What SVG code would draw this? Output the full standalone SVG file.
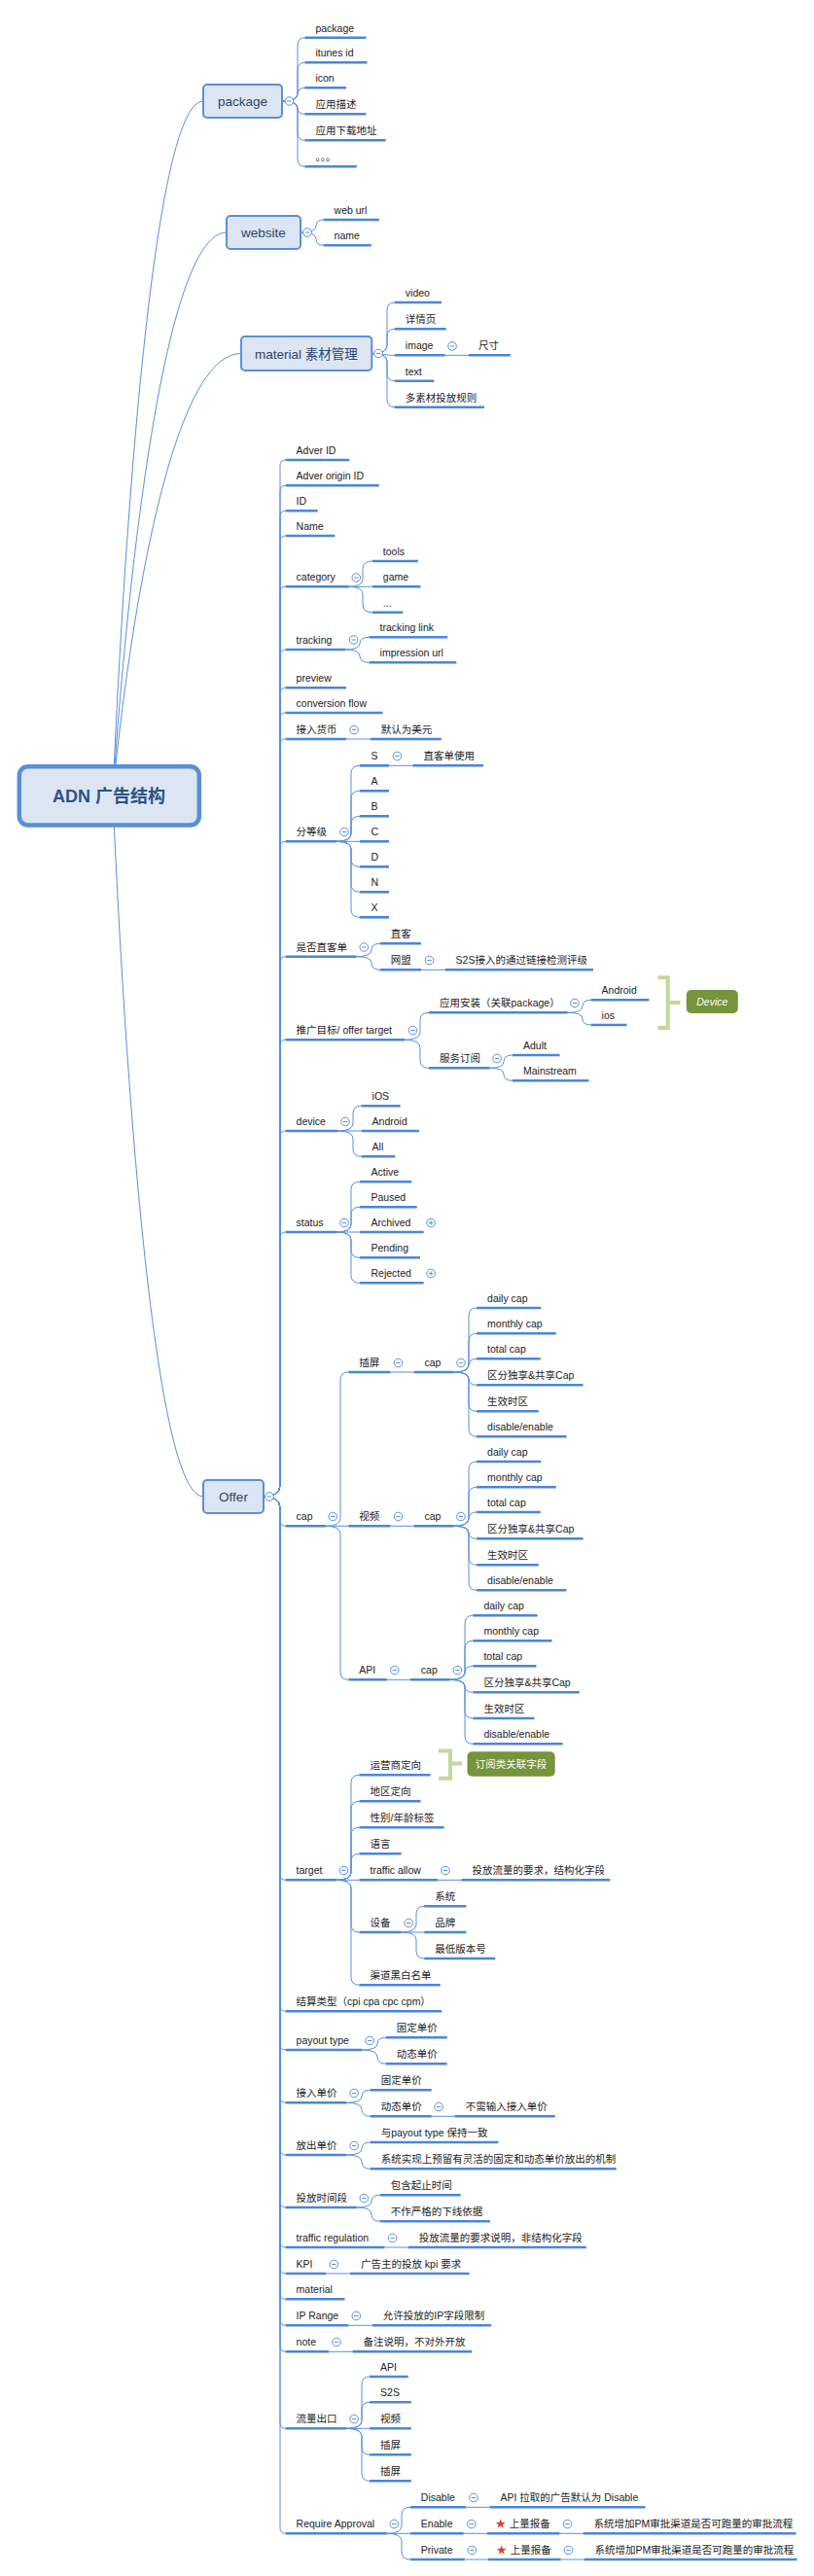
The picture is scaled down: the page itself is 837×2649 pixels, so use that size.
<svg xmlns="http://www.w3.org/2000/svg" xmlns:xlink="http://www.w3.org/1999/xlink" width="837" height="2649" viewBox="0 0 837 2649">
<style>
.c{fill:none;stroke:#5a8fd8;stroke-width:1}
.u{fill:none;stroke:#4c86d6;stroke-width:2.6}
.t{font-family:"Liberation Sans","Noto Sans CJK SC",sans-serif;font-size:10.5px;fill:#222}
.mt{font-family:"Liberation Sans","Noto Sans CJK SC",sans-serif;font-size:13.5px;fill:#2f4468;text-anchor:middle}
.box{fill:#dce6f3;stroke:#5a8fd8;stroke-width:2}
.br{fill:none;stroke:#c4d79b;stroke-width:4}
.gb{fill:#77933c}
.gt{font-family:"Liberation Sans","Noto Sans CJK SC",sans-serif;font-size:10.5px;fill:#fff;text-anchor:middle}
</style>
<defs>
<g id="mi"><circle r="4.3" fill="#fff" stroke="#5a8fd8" stroke-width="1"/><path d="M-2.2 0H2.2" stroke="#5a8fd8" stroke-width="1"/></g>
<g id="pl"><circle r="4.3" fill="#fff" stroke="#5a8fd8" stroke-width="1"/><path d="M-2.2 0H2.2M0 -2.2V2.2" stroke="#5a8fd8" stroke-width="1"/></g>
<polygon id="star" points="0,-5.2 1.23,-1.7 4.95,-1.61 2,0.65 3.06,4.21 0,2.1 -3.06,4.21 -2,0.65 -4.95,-1.61 -1.23,-1.7" fill="#e0403a"/>
</defs>
<rect width="837" height="2649" fill="#fff"/>
<g id="connectors" class="c">
<path d="M116 817 C116 817 143.9 104 209 104"/>
<path d="M116 817 C116 817 151.1 239 233 239"/>
<path d="M116 817 C116 817 155.6 363.5 248 363.5"/>
<path d="M116 817 C116 817 143.9 1539 209 1539"/>
<path d="M290 104 Q306 104 306 96 V46.7 Q306 38.7 313.4 38.7"/>
<path d="M290 104 Q306 104 306 96 V72.3 Q306 64.3 313.4 64.3"/>
<path d="M290 104 Q306 104 306 97.2 Q306 90.3 313.4 90.3"/>
<path d="M290 104 Q306 104 306 110.7 Q306 117.3 313.4 117.3"/>
<path d="M290 104 Q306 104 306 112 V136.3 Q306 144.3 313.4 144.3"/>
<path d="M290 104 Q306 104 306 112 V163.3 Q306 171.3 313.4 171.3"/>
<path d="M309 239 Q325 239 325 232.5 Q325 226 332.6 226"/>
<path d="M309 239 Q325 239 325 245.7 Q325 252.3 332.6 252.3"/>
<path d="M382.3 363.5 Q398 363.5 398 355.5 V319 Q398 311 405.8 311"/>
<path d="M382.3 363.5 Q398 363.5 398 355.5 V346.3 Q398 338.3 405.8 338.3"/>
<path d="M382.3 363.5 C395 363.5 395 365.3 405.8 365.3"/>
<path d="M382.3 363.5 Q398 363.5 398 371.5 V383.7 Q398 391.7 405.8 391.7"/>
<path d="M382.3 363.5 Q398 363.5 398 371.5 V410.7 Q398 418.7 405.8 418.7"/>
<path d="M457.6 365.3 H482"/>
<path d="M271 1539 Q288 1539 288 1527 V479 Q288 473 293.6 473"/>
<path d="M271 1539 Q288 1539 288 1527 V505.3 Q288 499.3 293.6 499.3"/>
<path d="M271 1539 Q288 1539 288 1527 V531.3 Q288 525.3 293.6 525.3"/>
<path d="M271 1539 Q288 1539 288 1527 V557 Q288 551 293.6 551"/>
<path d="M271 1539 Q288 1539 288 1527 V609.3 Q288 603.3 293.6 603.3"/>
<path d="M271 1539 Q288 1539 288 1527 V674 Q288 668 293.6 668"/>
<path d="M271 1539 Q288 1539 288 1527 V713.3 Q288 707.3 293.6 707.3"/>
<path d="M271 1539 Q288 1539 288 1527 V739 Q288 733 293.6 733"/>
<path d="M271 1539 Q288 1539 288 1527 V766 Q288 760 293.6 760"/>
<path d="M271 1539 Q288 1539 288 1527 V871.3 Q288 865.3 293.6 865.3"/>
<path d="M271 1539 Q288 1539 288 1527 V989.7 Q288 983.7 293.6 983.7"/>
<path d="M271 1539 Q288 1539 288 1527 V1075.3 Q288 1069.3 293.6 1069.3"/>
<path d="M271 1539 Q288 1539 288 1527 V1169 Q288 1163 293.6 1163"/>
<path d="M271 1539 Q288 1539 288 1527 V1273 Q288 1267 293.6 1267"/>
<path d="M271 1539 Q288 1539 288 1551 V1563.3 Q288 1569.3 293.6 1569.3"/>
<path d="M271 1539 Q288 1539 288 1551 V1927.3 Q288 1933.3 293.6 1933.3"/>
<path d="M271 1539 Q288 1539 288 1551 V2062.3 Q288 2068.3 293.6 2068.3"/>
<path d="M271 1539 Q288 1539 288 1551 V2102 Q288 2108 293.6 2108"/>
<path d="M271 1539 Q288 1539 288 1551 V2156.3 Q288 2162.3 293.6 2162.3"/>
<path d="M271 1539 Q288 1539 288 1551 V2210 Q288 2216 293.6 2216"/>
<path d="M271 1539 Q288 1539 288 1551 V2264 Q288 2270 293.6 2270"/>
<path d="M271 1539 Q288 1539 288 1551 V2305 Q288 2311 293.6 2311"/>
<path d="M271 1539 Q288 1539 288 1551 V2332 Q288 2338 293.6 2338"/>
<path d="M271 1539 Q288 1539 288 1551 V2358.3 Q288 2364.3 293.6 2364.3"/>
<path d="M271 1539 Q288 1539 288 1551 V2385.3 Q288 2391.3 293.6 2391.3"/>
<path d="M271 1539 Q288 1539 288 1551 V2412.3 Q288 2418.3 293.6 2418.3"/>
<path d="M271 1539 Q288 1539 288 1551 V2491.3 Q288 2497.3 293.6 2497.3"/>
<path d="M271 1539 Q288 1539 288 1551 V2599.3 Q288 2605.3 293.6 2605.3"/>
<path d="M358.8 603.3 Q373 603.3 373 595.3 V585 Q373 577 382.8 577"/>
<path d="M358.8 603.3 H382.8"/>
<path d="M358.8 603.3 Q373 603.3 373 611.3 V621.7 Q373 629.7 382.8 629.7"/>
<path d="M355 668 Q370 668 370 661.7 Q370 655.3 379.6 655.3"/>
<path d="M355 668 Q370 668 370 674.7 Q370 681.3 379.6 681.3"/>
<path d="M356 760 H380.7"/>
<path d="M346 865.3 Q361 865.3 361 857.3 V795.3 Q361 787.3 370 787.3"/>
<path d="M346 865.3 Q361 865.3 361 857.3 V821.3 Q361 813.3 370 813.3"/>
<path d="M346 865.3 Q361 865.3 361 857.3 V847.3 Q361 839.3 370 839.3"/>
<path d="M346 865.3 H370"/>
<path d="M346 865.3 Q361 865.3 361 873.3 V883.3 Q361 891.3 370 891.3"/>
<path d="M346 865.3 Q361 865.3 361 873.3 V909.3 Q361 917.3 370 917.3"/>
<path d="M346 865.3 Q361 865.3 361 873.3 V935.3 Q361 943.3 370 943.3"/>
<path d="M400 787.3 H424.5"/>
<path d="M366.3 983.7 Q382 983.7 382 977 Q382 970.3 390.8 970.3"/>
<path d="M366.3 983.7 Q382 983.7 382 990.5 Q382 997.3 390.8 997.3"/>
<path d="M433 997.3 H457.6"/>
<path d="M416 1069.3 Q432 1069.3 432 1061.3 V1049.3 Q432 1041.3 441 1041.3"/>
<path d="M416 1069.3 Q432 1069.3 432 1077.3 V1090.3 Q432 1098.3 441 1098.3"/>
<path d="M583.6 1041.3 Q599 1041.3 599 1034.8 Q599 1028.3 607.6 1028.3"/>
<path d="M583.6 1041.3 Q599 1041.3 599 1047.7 Q599 1054 607.6 1054"/>
<path d="M503.5 1098.3 Q518 1098.3 518 1091.7 Q518 1085 527 1085"/>
<path d="M503.5 1098.3 Q518 1098.3 518 1104.8 Q518 1111.3 527 1111.3"/>
<path d="M347 1163 Q363 1163 363 1155 V1145.3 Q363 1137.3 371.6 1137.3"/>
<path d="M347 1163 H371.6"/>
<path d="M347 1163 Q363 1163 363 1171 V1181.3 Q363 1189.3 371.6 1189.3"/>
<path d="M346 1267 Q361 1267 361 1259 V1223.3 Q361 1215.3 370 1215.3"/>
<path d="M346 1267 Q361 1267 361 1259 V1249.3 Q361 1241.3 370 1241.3"/>
<path d="M346 1267 H370"/>
<path d="M346 1267 Q361 1267 361 1275 V1285.3 Q361 1293.3 370 1293.3"/>
<path d="M346 1267 Q361 1267 361 1275 V1311.3 Q361 1319.3 370 1319.3"/>
<path d="M334.8 1569.3 Q350 1569.3 350 1561.3 V1419 Q350 1411 358.3 1411"/>
<path d="M334.8 1569.3 H358.3"/>
<path d="M334.8 1569.3 Q350 1569.3 350 1577.3 V1719.3 Q350 1727.3 358.3 1727.3"/>
<path d="M401.5 1411 H425.5"/>
<path d="M401.5 1569.3 H425.5"/>
<path d="M397.8 1727.3 H421.8"/>
<path d="M466.6 1411 Q482 1411 482 1403 V1353 Q482 1345 490.1 1345"/>
<path d="M466.6 1411 Q482 1411 482 1403 V1379.3 Q482 1371.3 490.1 1371.3"/>
<path d="M466.6 1411 Q482 1411 482 1404.2 Q482 1397.3 490.1 1397.3"/>
<path d="M466.6 1411 Q482 1411 482 1417.7 Q482 1424.3 490.1 1424.3"/>
<path d="M466.6 1411 Q482 1411 482 1419 V1443.3 Q482 1451.3 490.1 1451.3"/>
<path d="M466.6 1411 Q482 1411 482 1419 V1469.3 Q482 1477.3 490.1 1477.3"/>
<path d="M466.6 1569.3 Q482 1569.3 482 1561.3 V1511 Q482 1503 490.1 1503"/>
<path d="M466.6 1569.3 Q482 1569.3 482 1561.3 V1537.3 Q482 1529.3 490.1 1529.3"/>
<path d="M466.6 1569.3 Q482 1569.3 482 1562.2 Q482 1555 490.1 1555"/>
<path d="M466.6 1569.3 Q482 1569.3 482 1575.8 Q482 1582.3 490.1 1582.3"/>
<path d="M466.6 1569.3 Q482 1569.3 482 1577.3 V1601.3 Q482 1609.3 490.1 1609.3"/>
<path d="M466.6 1569.3 Q482 1569.3 482 1577.3 V1627.3 Q482 1635.3 490.1 1635.3"/>
<path d="M462.4 1727.3 Q478 1727.3 478 1719.3 V1669.3 Q478 1661.3 486.4 1661.3"/>
<path d="M462.4 1727.3 Q478 1727.3 478 1719.3 V1695.3 Q478 1687.3 486.4 1687.3"/>
<path d="M462.4 1727.3 Q478 1727.3 478 1720.3 Q478 1713.3 486.4 1713.3"/>
<path d="M462.4 1727.3 Q478 1727.3 478 1733.8 Q478 1740.3 486.4 1740.3"/>
<path d="M462.4 1727.3 Q478 1727.3 478 1735.3 V1759 Q478 1767 486.4 1767"/>
<path d="M462.4 1727.3 Q478 1727.3 478 1735.3 V1785.3 Q478 1793.3 486.4 1793.3"/>
<path d="M345.4 1933.3 Q361 1933.3 361 1925.3 V1833.3 Q361 1825.3 369.5 1825.3"/>
<path d="M345.4 1933.3 Q361 1933.3 361 1925.3 V1860.3 Q361 1852.3 369.5 1852.3"/>
<path d="M345.4 1933.3 Q361 1933.3 361 1925.3 V1887.3 Q361 1879.3 369.5 1879.3"/>
<path d="M345.4 1933.3 Q361 1933.3 361 1925.3 V1914.3 Q361 1906.3 369.5 1906.3"/>
<path d="M345.4 1933.3 H369.5"/>
<path d="M345.4 1933.3 Q361 1933.3 361 1941.3 V1979 Q361 1987 369.5 1987"/>
<path d="M345.4 1933.3 Q361 1933.3 361 1941.3 V2033.3 Q361 2041.3 369.5 2041.3"/>
<path d="M450 1933.3 H474.6"/>
<path d="M412.7 1987 Q428 1987 428 1979 V1968.3 Q428 1960.3 436.2 1960.3"/>
<path d="M412.7 1987 H436.2"/>
<path d="M412.7 1987 Q428 1987 428 1995 V2006 Q428 2014 436.2 2014"/>
<path d="M372.1 2108 Q388 2108 388 2101.7 Q388 2095.3 396.7 2095.3"/>
<path d="M372.1 2108 Q388 2108 388 2115.2 Q388 2122.3 396.7 2122.3"/>
<path d="M356.1 2162.3 Q372 2162.3 372 2155.8 Q372 2149.3 380.7 2149.3"/>
<path d="M356.1 2162.3 Q372 2162.3 372 2169.3 Q372 2176.3 380.7 2176.3"/>
<path d="M443.7 2176.3 H467.7"/>
<path d="M356.1 2216 Q372 2216 372 2209.5 Q372 2203 380.7 2203"/>
<path d="M356.1 2216 Q372 2216 372 2223.2 Q372 2230.3 380.7 2230.3"/>
<path d="M366.8 2270 Q382 2270 382 2263.7 Q382 2257.3 390.8 2257.3"/>
<path d="M366.8 2270 Q382 2270 382 2277.2 Q382 2284.3 390.8 2284.3"/>
<path d="M395.6 2311 H419.7"/>
<path d="M335.3 2338 H359.9"/>
<path d="M358.3 2391.3 H382.8"/>
<path d="M338 2418.3 H362.5"/>
<path d="M356.1 2497.3 Q372 2497.3 372 2489.3 V2452 Q372 2444 380.1 2444"/>
<path d="M356.1 2497.3 Q372 2497.3 372 2489.3 V2478.3 Q372 2470.3 380.1 2470.3"/>
<path d="M356.1 2497.3 H380.1"/>
<path d="M356.1 2497.3 Q372 2497.3 372 2505.3 V2516.3 Q372 2524.3 380.1 2524.3"/>
<path d="M356.1 2497.3 Q372 2497.3 372 2505.3 V2543.3 Q372 2551.3 380.1 2551.3"/>
<path d="M397.8 2605.3 Q413 2605.3 413 2597.3 V2586.3 Q413 2578.3 421.8 2578.3"/>
<path d="M397.8 2605.3 H421.8"/>
<path d="M397.8 2605.3 Q413 2605.3 413 2613.3 V2624 Q413 2632 421.8 2632"/>
<path d="M478.9 2578.3 H503.5"/>
<path d="M476.8 2605.3 H500.8"/>
<path d="M575.5 2605.3 H599.6"/>
<path d="M477.8 2632 H501.9"/>
<path d="M576.6 2632 H600.6"/>
</g>
<g id="root"><rect x="19.8" y="788.2" width="185" height="60.3" rx="9" fill="#dce6f3" stroke="#5a8fd8" stroke-width="4.5"/><text x="112" y="825" font-family="Liberation Sans,Noto Sans CJK SC,sans-serif" font-size="18" font-weight="bold" fill="#2c5283" text-anchor="middle">ADN 广告结构</text></g>
<g id="t-package"><rect class="box" x="209" y="87" width="81" height="34" rx="4"/><text class="mt" x="249.5" y="109">package</text><use href="#mi" x="297.4" y="104"/></g>
<g id="t-website"><rect class="box" x="233" y="222" width="76" height="34" rx="4"/><text class="mt" x="271" y="244">website</text><use href="#mi" x="316" y="239"/></g>
<g id="t-material"><rect class="box" x="248" y="346" width="134.3" height="35" rx="4"/><text class="mt" x="315" y="368.5">material 素材管理</text><use href="#mi" x="389" y="363.5"/></g>
<g id="t-offer"><rect class="box" x="209" y="1522" width="62" height="34" rx="4"/><text class="mt" x="240" y="1544">Offer</text><use href="#mi" x="277" y="1539"/></g>
<g id="p1"><path class="u" d="M313.4 38.7H376.4"/><text class="t" x="324.4" y="32.7">package</text></g>
<g id="p2"><path class="u" d="M313.4 64.3H377.5"/><text class="t" x="324.4" y="58.3">itunes id</text></g>
<g id="p3"><path class="u" d="M313.4 90.3H356"/><text class="t" x="324.4" y="84.3">icon</text></g>
<g id="p4"><path class="u" d="M313.4 117.3H376.4"/><text class="t" x="324.4" y="111.3">应用描述</text></g>
<g id="p5"><path class="u" d="M313.4 144.3H396.7"/><text class="t" x="324.4" y="138.3">应用下载地址</text></g>
<g id="p6"><path class="u" d="M313.4 171.3H366.8"/><text class="t" x="324.4" y="165.3">。。。</text></g>
<g id="w1"><path class="u" d="M332.6 226H390"/><text class="t" x="343.6" y="220">web url</text></g>
<g id="w2"><path class="u" d="M332.6 252.3H381.7"/><text class="t" x="343.6" y="246.3">name</text></g>
<g id="m1"><path class="u" d="M405.8 311H454"/><text class="t" x="416.8" y="305">video</text></g>
<g id="m2"><path class="u" d="M405.8 338.3H458.6"/><text class="t" x="416.8" y="332.3">详情页</text></g>
<g id="m3"><path class="u" d="M405.8 365.3H457.6"/><text class="t" x="416.8" y="359.3">image</text><use href="#mi" x="465" y="356"/></g>
<g id="m3a"><path class="u" d="M482 365.3H524.8"/><text class="t" x="492" y="359.3">尺寸</text></g>
<g id="m4"><path class="u" d="M405.8 391.7H446.3"/><text class="t" x="416.8" y="385.7">text</text></g>
<g id="m5"><path class="u" d="M405.8 418.7H498"/><text class="t" x="416.8" y="412.7">多素材投放规则</text></g>
<g id="o1"><path class="u" d="M293.6 473H359.3"/><text class="t" x="304.6" y="467">Adver ID</text></g>
<g id="o2"><path class="u" d="M293.6 499.3H389.7"/><text class="t" x="304.6" y="493.3">Adver origin ID</text></g>
<g id="o3"><path class="u" d="M293.6 525.3H326.7"/><text class="t" x="304.6" y="519.3">ID</text></g>
<g id="o4"><path class="u" d="M293.6 551H344.4"/><text class="t" x="304.6" y="545">Name</text></g>
<g id="o5"><path class="u" d="M293.6 603.3H358.8"/><text class="t" x="304.6" y="597.3">category</text><use href="#mi" x="366.3" y="594"/></g>
<g id="o6"><path class="u" d="M293.6 668H355"/><text class="t" x="304.6" y="662">tracking</text><use href="#mi" x="363.6" y="658"/></g>
<g id="o7"><path class="u" d="M293.6 707.3H356.1"/><text class="t" x="304.6" y="701.3">preview</text></g>
<g id="o8"><path class="u" d="M293.6 733H393.5"/><text class="t" x="304.6" y="727">conversion flow</text></g>
<g id="o9"><path class="u" d="M293.6 760H356"/><text class="t" x="304.6" y="754">接入货币</text><use href="#mi" x="364" y="750.5"/></g>
<g id="o10"><path class="u" d="M293.6 865.3H346"/><text class="t" x="304.6" y="859.3">分等级</text><use href="#mi" x="354" y="855.5"/></g>
<g id="o11"><path class="u" d="M293.6 983.7H366.3"/><text class="t" x="304.6" y="977.7">是否直客单</text><use href="#mi" x="374.3" y="974"/></g>
<g id="o12"><path class="u" d="M293.6 1069.3H416"/><text class="t" x="304.6" y="1063.3">推广目标/ offer target</text><use href="#mi" x="424.5" y="1059.5"/></g>
<g id="o13"><path class="u" d="M293.6 1163H347"/><text class="t" x="304.6" y="1157">device</text><use href="#mi" x="355" y="1153.5"/></g>
<g id="o14"><path class="u" d="M293.6 1267H346"/><text class="t" x="304.6" y="1261">status</text><use href="#mi" x="354" y="1257.5"/></g>
<g id="o15"><path class="u" d="M293.6 1569.3H334.8"/><text class="t" x="304.6" y="1563.3">cap</text><use href="#mi" x="342.2" y="1559.5"/></g>
<g id="o16"><path class="u" d="M293.6 1933.3H345.4"/><text class="t" x="304.6" y="1927.3">target</text><use href="#mi" x="353.4" y="1923.5"/></g>
<g id="o17"><path class="u" d="M293.6 2068.3H454.3"/><text class="t" x="304.6" y="2062.3">结算类型（cpi cpa cpc cpm）</text></g>
<g id="o18"><path class="u" d="M293.6 2108H372.1"/><text class="t" x="304.6" y="2102">payout type</text><use href="#mi" x="380.1" y="2098.5"/></g>
<g id="o19"><path class="u" d="M293.6 2162.3H356.1"/><text class="t" x="304.6" y="2156.3">接入单价</text><use href="#mi" x="364.1" y="2152.5"/></g>
<g id="o20"><path class="u" d="M293.6 2216H356.1"/><text class="t" x="304.6" y="2210">放出单价</text><use href="#mi" x="364.1" y="2206.5"/></g>
<g id="o21"><path class="u" d="M293.6 2270H366.8"/><text class="t" x="304.6" y="2264">投放时间段</text><use href="#mi" x="374.3" y="2260.5"/></g>
<g id="o22"><path class="u" d="M293.6 2311H395.6"/><text class="t" x="304.6" y="2305">traffic regulation</text><use href="#mi" x="403.6" y="2301.5"/></g>
<g id="o23"><path class="u" d="M293.6 2338H335.3"/><text class="t" x="304.6" y="2332">KPI</text><use href="#mi" x="343.3" y="2328.5"/></g>
<g id="o24"><path class="u" d="M293.6 2364.3H354.5"/><text class="t" x="304.6" y="2358.3">material</text></g>
<g id="o25"><path class="u" d="M293.6 2391.3H358.3"/><text class="t" x="304.6" y="2385.3">IP Range</text><use href="#mi" x="366.3" y="2381.5"/></g>
<g id="o26"><path class="u" d="M293.6 2418.3H338"/><text class="t" x="304.6" y="2412.3">note</text><use href="#mi" x="346" y="2408.5"/></g>
<g id="o27"><path class="u" d="M293.6 2497.3H356.1"/><text class="t" x="304.6" y="2491.3">流量出口</text><use href="#mi" x="364.1" y="2487.5"/></g>
<g id="o28"><path class="u" d="M293.6 2605.3H397.8"/><text class="t" x="304.6" y="2599.3">Require Approval</text><use href="#mi" x="405.2" y="2595.5"/></g>
<g id="c1"><path class="u" d="M382.8 577H429.8"/><text class="t" x="393.8" y="571">tools</text></g>
<g id="c2"><path class="u" d="M382.8 603.3H432.5"/><text class="t" x="393.8" y="597.3">game</text></g>
<g id="c3"><path class="u" d="M382.8 629.7H414.3"/><text class="t" x="393.8" y="623.7">...</text></g>
<g id="tr1"><path class="u" d="M379.6 655.3H460.2"/><text class="t" x="390.6" y="649.3">tracking link</text></g>
<g id="tr2"><path class="u" d="M379.6 681.3H469.3"/><text class="t" x="390.6" y="675.3">impression url</text></g>
<g id="cur1"><path class="u" d="M380.7 760H453.8"/><text class="t" x="391.7" y="754">默认为美元</text></g>
<g id="g-s"><path class="u" d="M370 787.3H400"/><text class="t" x="381.5" y="781.3">S</text><use href="#mi" x="408.4" y="777.5"/></g>
<g id="g-a"><path class="u" d="M370 813.3H400"/><text class="t" x="381.5" y="807.3">A</text></g>
<g id="g-b"><path class="u" d="M370 839.3H400"/><text class="t" x="381.5" y="833.3">B</text></g>
<g id="g-c"><path class="u" d="M370 865.3H400"/><text class="t" x="381.5" y="859.3">C</text></g>
<g id="g-d"><path class="u" d="M370 891.3H400"/><text class="t" x="381.5" y="885.3">D</text></g>
<g id="g-n"><path class="u" d="M370 917.3H400"/><text class="t" x="381.5" y="911.3">N</text></g>
<g id="g-x"><path class="u" d="M370 943.3H400"/><text class="t" x="381.5" y="937.3">X</text></g>
<g id="g-s1"><path class="u" d="M424.5 787.3H497"/><text class="t" x="435.5" y="781.3">直客单使用</text></g>
<g id="d1"><path class="u" d="M390.8 970.3H433"/><text class="t" x="401.8" y="964.3">直客</text></g>
<g id="d2"><path class="u" d="M390.8 997.3H433"/><text class="t" x="401.8" y="991.3">网盟</text><use href="#mi" x="441.5" y="987.5"/></g>
<g id="d2a"><path class="u" d="M457.6 997.3H610"/><text class="t" x="468.6" y="991.3">S2S接入的通过链接检测评级</text></g>
<g id="ot1"><path class="u" d="M441 1041.3H583.6"/><text class="t" x="452" y="1035.3">应用安装（关联package）</text><use href="#mi" x="591" y="1031.5"/></g>
<g id="ot2"><path class="u" d="M441 1098.3H503.5"/><text class="t" x="452" y="1092.3">服务订阅</text><use href="#mi" x="511" y="1088.5"/></g>
<g id="ot1a"><path class="u" d="M607.6 1028.3H667.4"/><text class="t" x="618.6" y="1022.3">Android</text></g>
<g id="ot1b"><path class="u" d="M607.6 1054H644.4"/><text class="t" x="618.6" y="1048">ios</text></g>
<g id="ot2a"><path class="u" d="M527 1085H575.5"/><text class="t" x="538" y="1079">Adult</text></g>
<g id="ot2b"><path class="u" d="M527 1111.3H605.4"/><text class="t" x="538" y="1105.3">Mainstream</text></g>
<g id="device-label"><path class="br" d="M676.5 1005.3H686.7V1057H676.5M686.7 1031H699.4"/><rect class="gb" x="705.8" y="1018" width="53" height="24" rx="5"/><text class="gt" x="732.3" y="1034" font-style="italic">Device</text></g>
<g id="dv1"><path class="u" d="M371.6 1137.3H411.6"/><text class="t" x="382.6" y="1131.3">iOS</text></g>
<g id="dv2"><path class="u" d="M371.6 1163H430.9"/><text class="t" x="382.6" y="1157">Android</text></g>
<g id="dv3"><path class="u" d="M371.6 1189.3H406.3"/><text class="t" x="382.6" y="1183.3">All</text></g>
<g id="st1"><path class="u" d="M370 1215.3H423.4"/><text class="t" x="381.5" y="1209.3">Active</text></g>
<g id="st2"><path class="u" d="M370 1241.3H428.7"/><text class="t" x="381.5" y="1235.3">Paused</text></g>
<g id="st3"><path class="u" d="M370 1267H435.7"/><text class="t" x="381.5" y="1261">Archived</text><use href="#pl" x="443.1" y="1257.5"/></g>
<g id="st4"><path class="u" d="M370 1293.3H432"/><text class="t" x="381.5" y="1287.3">Pending</text></g>
<g id="st5"><path class="u" d="M370 1319.3H435.7"/><text class="t" x="381.5" y="1313.3">Rejected</text><use href="#pl" x="443.1" y="1309.5"/></g>
<g id="cp1"><path class="u" d="M358.3 1411H401.5"/><text class="t" x="369.3" y="1405">插屏</text><use href="#mi" x="409.5" y="1401.5"/></g>
<g id="cp2"><path class="u" d="M358.3 1569.3H401.5"/><text class="t" x="369.3" y="1563.3">视频</text><use href="#mi" x="409.5" y="1559.5"/></g>
<g id="cp3"><path class="u" d="M358.3 1727.3H397.8"/><text class="t" x="369.3" y="1721.3">API</text><use href="#mi" x="405.8" y="1717.5"/></g>
<g id="cp1c"><path class="u" d="M425.5 1411H466.6"/><text class="t" x="436.5" y="1405">cap</text><use href="#mi" x="474" y="1401.5"/></g>
<g id="cp2c"><path class="u" d="M425.5 1569.3H466.6"/><text class="t" x="436.5" y="1563.3">cap</text><use href="#mi" x="474" y="1559.5"/></g>
<g id="cp3c"><path class="u" d="M421.8 1727.3H462.4"/><text class="t" x="432.8" y="1721.3">cap</text><use href="#mi" x="470.4" y="1717.5"/></g>
<g id="a1"><path class="u" d="M490.1 1345H556.3"/><text class="t" x="501.1" y="1339">daily cap</text></g>
<g id="a2"><path class="u" d="M490.1 1371.3H571.8"/><text class="t" x="501.1" y="1365.3">monthly cap</text></g>
<g id="a3"><path class="u" d="M490.1 1397.3H555.8"/><text class="t" x="501.1" y="1391.3">total cap</text></g>
<g id="a4"><path class="u" d="M490.1 1424.3H599.6"/><text class="t" x="501.1" y="1418.3">区分独享&amp;共享Cap</text></g>
<g id="a5"><path class="u" d="M490.1 1451.3H553.7"/><text class="t" x="501.1" y="1445.3">生效时区</text></g>
<g id="a6"><path class="u" d="M490.1 1477.3H582.5"/><text class="t" x="501.1" y="1471.3">disable/enable</text></g>
<g id="b1"><path class="u" d="M490.1 1503H556.3"/><text class="t" x="501.1" y="1497">daily cap</text></g>
<g id="b2"><path class="u" d="M490.1 1529.3H571.8"/><text class="t" x="501.1" y="1523.3">monthly cap</text></g>
<g id="b3"><path class="u" d="M490.1 1555H555.8"/><text class="t" x="501.1" y="1549">total cap</text></g>
<g id="b4"><path class="u" d="M490.1 1582.3H599.6"/><text class="t" x="501.1" y="1576.3">区分独享&amp;共享Cap</text></g>
<g id="b5"><path class="u" d="M490.1 1609.3H553.7"/><text class="t" x="501.1" y="1603.3">生效时区</text></g>
<g id="b6"><path class="u" d="M490.1 1635.3H582.5"/><text class="t" x="501.1" y="1629.3">disable/enable</text></g>
<g id="e1"><path class="u" d="M486.4 1661.3H552.6"/><text class="t" x="497.4" y="1655.3">daily cap</text></g>
<g id="e2"><path class="u" d="M486.4 1687.3H567.5"/><text class="t" x="497.4" y="1681.3">monthly cap</text></g>
<g id="e3"><path class="u" d="M486.4 1713.3H551.5"/><text class="t" x="497.4" y="1707.3">total cap</text></g>
<g id="e4"><path class="u" d="M486.4 1740.3H595.8"/><text class="t" x="497.4" y="1734.3">区分独享&amp;共享Cap</text></g>
<g id="e5"><path class="u" d="M486.4 1767H549.4"/><text class="t" x="497.4" y="1761">生效时区</text></g>
<g id="e6"><path class="u" d="M486.4 1793.3H578.7"/><text class="t" x="497.4" y="1787.3">disable/enable</text></g>
<g id="tg1"><path class="u" d="M369.5 1825.3H442.6"/><text class="t" x="380.5" y="1819.3">运营商定向</text></g>
<g id="sub-label"><path class="br" d="M451 1800.6H463V1828.7H451M463 1813.5H475"/><rect class="gb" x="480.5" y="1801.3" width="90.2" height="25.4" rx="5"/><text class="gt" x="525.6" y="1817.8">订阅类关联字段</text></g>
<g id="tg2"><path class="u" d="M369.5 1852.3H432.5"/><text class="t" x="380.5" y="1846.3">地区定向</text></g>
<g id="tg3"><path class="u" d="M369.5 1879.3H456.5"/><text class="t" x="380.5" y="1873.3">性别/年龄标签</text></g>
<g id="tg4"><path class="u" d="M369.5 1906.3H412.7"/><text class="t" x="380.5" y="1900.3">语言</text></g>
<g id="tg5"><path class="u" d="M369.5 1933.3H450"/><text class="t" x="380.5" y="1927.3">traffic allow</text><use href="#mi" x="458" y="1923.5"/></g>
<g id="tg5a"><path class="u" d="M474.6 1933.3H627.3"/><text class="t" x="485.6" y="1927.3">投放流量的要求，结构化字段</text></g>
<g id="tg6"><path class="u" d="M369.5 1987H412.7"/><text class="t" x="380.5" y="1981">设备</text><use href="#mi" x="420.2" y="1977.5"/></g>
<g id="tg6a"><path class="u" d="M436.2 1960.3H479.4"/><text class="t" x="447.2" y="1954.3">系统</text></g>
<g id="tg6b"><path class="u" d="M436.2 1987H479.4"/><text class="t" x="447.2" y="1981">品牌</text></g>
<g id="tg6c"><path class="u" d="M436.2 2014H509.3"/><text class="t" x="447.2" y="2008">最低版本号</text></g>
<g id="tg7"><path class="u" d="M369.5 2041.3H452.7"/><text class="t" x="380.5" y="2035.3">渠道黑白名单</text></g>
<g id="py1"><path class="u" d="M396.7 2095.3H459.7"/><text class="t" x="407.7" y="2089.3">固定单价</text></g>
<g id="py2"><path class="u" d="M396.7 2122.3H459.7"/><text class="t" x="407.7" y="2116.3">动态单价</text></g>
<g id="jr1"><path class="u" d="M380.7 2149.3H443.7"/><text class="t" x="391.7" y="2143.3">固定单价</text></g>
<g id="jr2"><path class="u" d="M380.7 2176.3H443.7"/><text class="t" x="391.7" y="2170.3">动态单价</text><use href="#mi" x="451.1" y="2166.5"/></g>
<g id="jr2a"><path class="u" d="M467.7 2176.3H570.7"/><text class="t" x="478.7" y="2170.3">不需输入接入单价</text></g>
<g id="fc1"><path class="u" d="M380.7 2203H512.5"/><text class="t" x="391.7" y="2197">与payout type 保持一致</text></g>
<g id="fc2"><path class="u" d="M380.7 2230.3H633.7"/><text class="t" x="391.7" y="2224.3">系统实现上预留有灵活的固定和动态单价放出的机制</text></g>
<g id="tm1"><path class="u" d="M390.8 2257.3H473.6"/><text class="t" x="401.8" y="2251.3">包含起止时间</text></g>
<g id="tm2"><path class="u" d="M390.8 2284.3H504"/><text class="t" x="401.8" y="2278.3">不作严格的下线依据</text></g>
<g id="rg1"><path class="u" d="M419.7 2311H602.8"/><text class="t" x="430.7" y="2305">投放流量的要求说明，非结构化字段</text></g>
<g id="kp1"><path class="u" d="M359.9 2338H482.6"/><text class="t" x="370.9" y="2332">广告主的投放 kpi 要求</text></g>
<g id="ip1"><path class="u" d="M382.8 2391.3H505.1"/><text class="t" x="393.8" y="2385.3">允许投放的IP字段限制</text></g>
<g id="nt1"><path class="u" d="M362.5 2418.3H485.3"/><text class="t" x="373.5" y="2412.3">备注说明，不对外开放</text></g>
<g id="fl1"><path class="u" d="M380.1 2444H419.7"/><text class="t" x="391.1" y="2438">API</text></g>
<g id="fl2"><path class="u" d="M380.1 2470.3H422.8"/><text class="t" x="391.1" y="2464.3">S2S</text></g>
<g id="fl3"><path class="u" d="M380.1 2497.3H422.8"/><text class="t" x="391.1" y="2491.3">视频</text></g>
<g id="fl4"><path class="u" d="M380.1 2524.3H422.8"/><text class="t" x="391.1" y="2518.3">插屏</text></g>
<g id="fl5"><path class="u" d="M380.1 2551.3H422.8"/><text class="t" x="391.1" y="2545.3">插屏</text></g>
<g id="ra1"><path class="u" d="M421.8 2578.3H478.9"/><text class="t" x="432.8" y="2572.3">Disable</text><use href="#mi" x="487" y="2568.5"/></g>
<g id="ra1a"><path class="u" d="M503.5 2578.3H663.6"/><text class="t" x="514.5" y="2572.3">API 拉取的广告默认为 Disable</text></g>
<g id="ra2"><path class="u" d="M421.8 2605.3H476.8"/><text class="t" x="432.8" y="2599.3">Enable</text><use href="#mi" x="484.8" y="2595.5"/></g>
<g id="ra2a"><path class="u" d="M500.8 2605.3H575.5"/><use href="#star" x="514.7" y="2595.5"/><text class="t" x="523.8" y="2599.3">上量报备</text><use href="#mi" x="583.6" y="2595.5"/></g>
<g id="ra2b"><path class="u" d="M599.6 2605.3H818.5"/><text class="t" x="610.6" y="2599.3">系统增加PM审批渠道是否可跑量的审批流程</text></g>
<g id="ra3"><path class="u" d="M421.8 2632H477.8"/><text class="t" x="432.8" y="2626">Private</text><use href="#mi" x="485.3" y="2622.5"/></g>
<g id="ra3a"><path class="u" d="M501.9 2632H576.6"/><use href="#star" x="515.7" y="2622.5"/><text class="t" x="524.8" y="2626">上量报备</text><use href="#mi" x="584.6" y="2622.5"/></g>
<g id="ra3b"><path class="u" d="M600.6 2632H819.5"/><text class="t" x="611.6" y="2626">系统增加PM审批渠道是否可跑量的审批流程</text></g>
</svg>
